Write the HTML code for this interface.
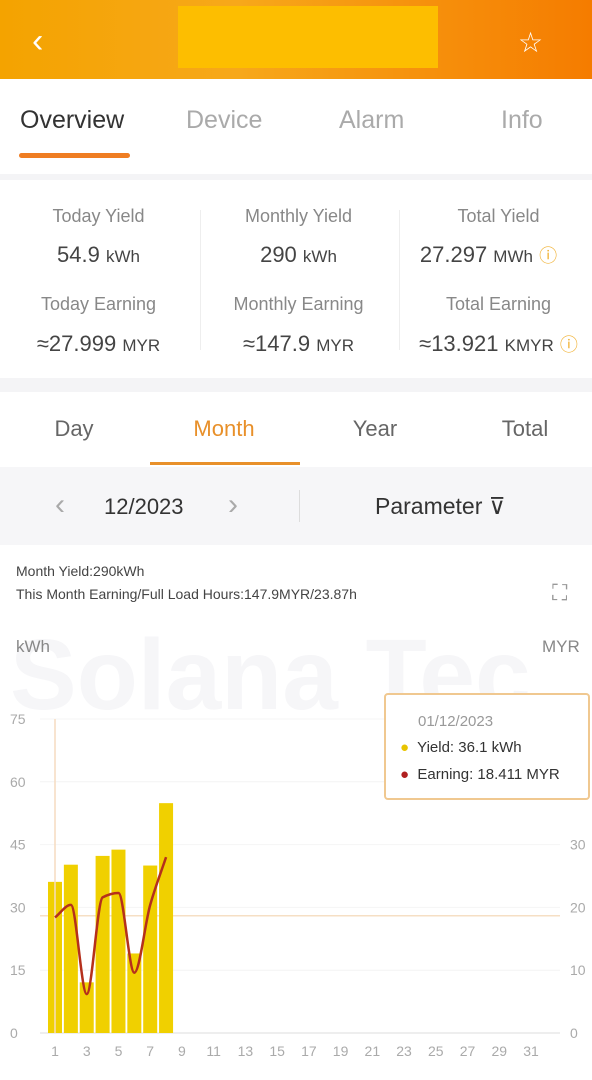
<!DOCTYPE html>
<html><head><meta charset="utf-8">
<style>
*{margin:0;padding:0;box-sizing:border-box}
body{width:592px;height:1080px;overflow:hidden;background:#fff;font-family:"Liberation Sans",sans-serif;position:relative}
.abs{position:absolute}
.hdr{left:0;top:0;width:592px;height:79px;background:linear-gradient(90deg,#f4a300,#f7a81a 40%,#f57c00)}
.tab{top:106px;font-size:25px;color:#aaa}
.stat-l{font-size:18px;color:#888;text-align:center;width:197px}
.stat-v{font-size:22px;color:#444;text-align:center;width:197px}
.stat-v small{font-size:17px}
.band{left:0;width:592px;background:#f4f4f6}
.t2{top:416px;font-size:22px;color:#666;text-align:center;width:148px}
</style></head><body>
<div class="abs hdr"></div>
<div class="abs" style="left:178px;top:6px;width:260px;height:62px;background:#fdbe00"></div>
<div class="abs" style="left:32px;top:22px;font-size:34px;color:#fff">&#x2039;</div>
<div class="abs" style="left:518px;top:26px;font-size:28px;color:#fff">☆</div>

<div class="abs tab" style="left:20px;color:#333">Overview</div>
<div class="abs tab" style="left:186px">Device</div>
<div class="abs tab" style="left:339px">Alarm</div>
<div class="abs tab" style="left:501px">Info</div>
<div class="abs" style="left:19px;top:153px;width:111px;height:5px;background:#ef7d22;border-radius:3px"></div>
<div class="abs band" style="top:174px;height:6px"></div>

<div class="abs stat-l" style="left:0;top:206px">Today Yield</div>
<div class="abs stat-v" style="left:0;top:242px">54.9 <small>kWh</small></div>
<div class="abs stat-l" style="left:200px;top:206px">Monthly Yield</div>
<div class="abs stat-v" style="left:200px;top:242px">290 <small>kWh</small></div>
<div class="abs stat-l" style="left:400px;top:206px">Total Yield</div>
<div class="abs stat-v" style="left:390px;top:242px">27.297 <small>MWh</small> <span style="color:#f0b030;font-size:18px">ⓘ</span></div>
<div class="abs stat-l" style="left:0;top:294px">Today Earning</div>
<div class="abs stat-v" style="left:0;top:331px">≈27.999 <small>MYR</small></div>
<div class="abs stat-l" style="left:200px;top:294px">Monthly Earning</div>
<div class="abs stat-v" style="left:200px;top:331px">≈147.9 <small>MYR</small></div>
<div class="abs stat-l" style="left:400px;top:294px">Total Earning</div>
<div class="abs stat-v" style="left:400px;top:331px">≈13.921 <small>KMYR</small> <span style="color:#f0b030;font-size:18px">ⓘ</span></div>
<div class="abs" style="left:200px;top:210px;width:1px;height:140px;background:#eee"></div>
<div class="abs" style="left:399px;top:210px;width:1px;height:140px;background:#eee"></div>
<div class="abs band" style="top:378px;height:14px"></div>

<div class="abs t2" style="left:0">Day</div>
<div class="abs t2" style="left:150px;color:#e8902a">Month</div>
<div class="abs t2" style="left:301px">Year</div>
<div class="abs t2" style="left:451px">Total</div>
<div class="abs" style="left:150px;top:462px;width:150px;height:3px;background:#e8902a"></div>

<div class="abs band" style="top:467px;height:78px;background:#f6f6f8"></div>
<div class="abs" style="left:55px;top:488px;font-size:30px;color:#aaa">&#x2039;</div>
<div class="abs" style="left:104px;top:494px;font-size:22px;color:#333">12/2023</div>
<div class="abs" style="left:228px;top:488px;font-size:30px;color:#aaa">&#x203A;</div>
<div class="abs" style="left:299px;top:490px;width:1px;height:32px;background:#ddd"></div>
<div class="abs" style="left:375px;top:493px;font-size:23px;color:#333">Parameter ⊽</div>

<div class="abs" style="left:16px;top:563px;font-size:14px;color:#444">Month Yield:290kWh</div>
<div class="abs" style="left:16px;top:586px;font-size:14px;color:#444">This Month Earning/Full Load Hours:147.9MYR/23.87h</div>
<div class="abs" style="left:552px;top:580px;font-size:22px;color:#999">⛶</div>
<div class="abs" style="left:10px;top:618px;font-size:100px;font-weight:bold;color:#f6f6f8;white-space:nowrap">Solana Tec</div>

<svg class="abs" style="left:0;top:0" width="592" height="1080" id="chart"></svg>

<div class="abs" style="left:384px;top:693px;width:206px;height:107px;background:rgba(255,255,255,.95);border:2px solid #f0c890;border-radius:4px">
<div style="position:absolute;left:32px;top:18px;font-size:15px;color:#999">01/12/2023</div>
<div style="position:absolute;left:14px;top:44px;font-size:15px;color:#333"><span style="color:#e8c400">●</span>&nbsp; Yield: 36.1 kWh</div>
<div style="position:absolute;left:14px;top:71px;font-size:15px;color:#333"><span style="color:#b02020">●</span>&nbsp; Earning: 18.411 MYR</div>
</div>

<script>
const days=[];for(let i=1;i<=31;i++)days.push(i);
const yieldVals=[36.1,40.2,12.1,42.3,43.8,19.0,40.0,54.9];
const earningVals=[18.4,20.4,6.2,21.6,22.3,9.6,20.4,28.0];
const leftTicks=[0,15,30,45,60,75];
const rightTicks=[0,10,20,30];
const xTicks=[1,3,5,7,9,11,13,15,17,19,21,23,25,27,29,31];
const avgLine=28;

const svg=document.getElementById('chart');const NS='http://www.w3.org/2000/svg';
const X=d=>55+(d-1)*(531-55)/30;
const YL=v=>1033-v*(314/75);
const YR=v=>1033-v*(314/50);
function mk(t,a,txt){const e=document.createElementNS(NS,t);for(const k in a)e.setAttribute(k,a[k]);if(txt!==undefined)e.textContent=txt;svg.appendChild(e);return e;}
let e;
e=mk('text',{x:16,y:652,'font-size':17,fill:'#888'},'kWh');


e=mk('text',{x:542,y:652,'font-size':17,fill:'#888'},'MYR');


leftTicks.forEach(v=>{
 e=mk('line',{x1:40,x2:560,y1:YL(v),y2:YL(v),stroke:v===0?'#ddd':'#f4f4f4','stroke-width':1});
 
 
 e=mk('text',{x:10,y:YL(v)+5,'font-size':14,fill:'#aaa'},v);
 
 
});
rightTicks.forEach(v=>{
 e=mk('text',{x:570,y:YR(v)+5,'font-size':14,fill:'#aaa'},v);
 
 
});
xTicks.forEach(d=>{
 e=mk('text',{x:X(d),y:1056,'font-size':14,fill:'#aaa','text-anchor':'middle'},d);
 
 
});
e=mk('line',{x1:40,x2:560,y1:YL(avgLine),y2:YL(avgLine),stroke:'#f6dfc4','stroke-width':1.5});


yieldVals.forEach((v,i)=>{
 e=mk('rect',{x:X(days[i])-7,y:YL(v),width:14,height:YL(0)-YL(v),fill:'#f0d000'});
 
 
});
e=mk('line',{x1:X(1),x2:X(1),y1:YL(75),y2:YL(0),stroke:'#f6dcc0','stroke-width':1.5});


// monotone cubic interpolation
const px=earningVals.map((v,i)=>X(days[i])),py=earningVals.map(v=>YR(v));
const n=px.length,sl=[],m=[];
for(let i=0;i<n-1;i++)sl.push((py[i+1]-py[i])/(px[i+1]-px[i]));
for(let i=0;i<n;i++){
 if(i===0)m.push(sl[0]);else if(i===n-1)m.push(sl[n-2]);
 else m.push(sl[i-1]*sl[i]<=0?0:2/(1/sl[i-1]+1/sl[i]));
}
let d='M'+px[0]+','+py[0];
for(let i=0;i<n-1;i++){
 const h=(px[i+1]-px[i])/3;
 d+=' C'+(px[i]+h)+','+(py[i]+m[i]*h)+' '+(px[i+1]-h)+','+(py[i+1]-m[i+1]*h)+' '+px[i+1]+','+py[i+1];
}
e=mk('path',{d:d,fill:'none',stroke:'#b5301c','stroke-width':2.5});


</script>
</body></html>
